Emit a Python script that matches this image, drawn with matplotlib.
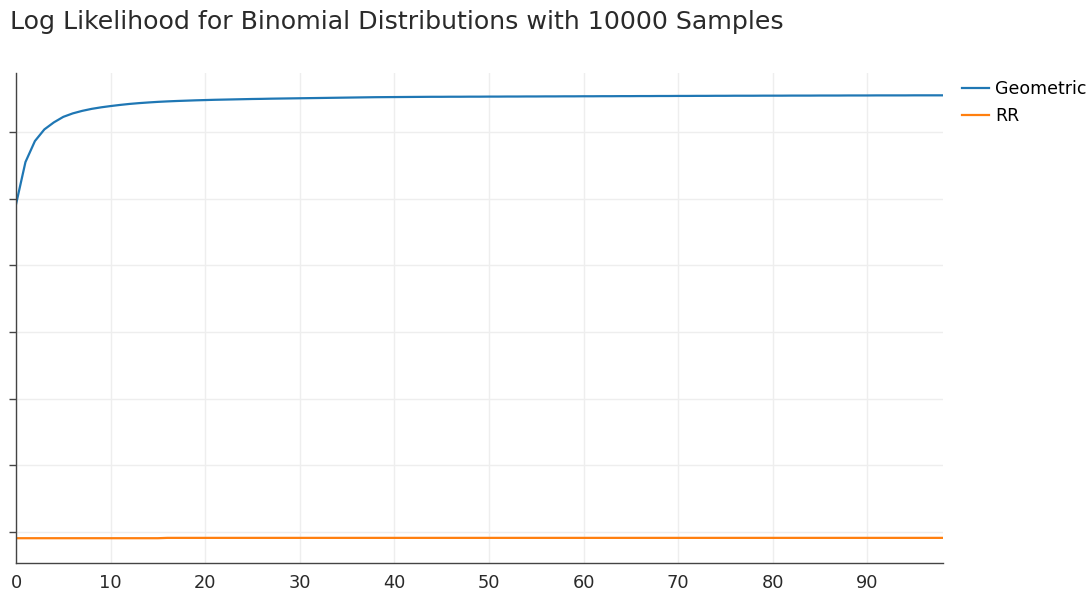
import matplotlib
matplotlib.use("Agg")
import matplotlib.pyplot as plt
import numpy as np

plt.rcParams['font.family'] = ['DejaVu Sans']

title = "Log Likelihood for Binomial Distributions with 10000 Samples"
series_names = ["Geometric", "RR"]

geometric = [
    -2086, -1450, -1135, -960, -855, -772, -720, -682, -652, -629,
    -610, -593, -578, -566, -556, -547, -540, -534, -529, -524,
    -520, -516, -513, -510, -507, -504, -502, -499, -497, -495,
    -493, -491, -489, -487, -485, -483, -481, -479, -477, -476,
    -475, -474, -473, -472, -471, -471, -470, -470, -469, -469,
    -468, -468, -467, -467, -466, -466, -465, -465, -464, -464,
    -463, -463, -462, -462, -461, -461, -460, -460, -459, -459,
    -458, -458, -457, -457, -456, -456, -455, -455, -455, -454,
    -454, -454, -453, -453, -453, -452, -452, -452, -451, -451,
    -451, -450, -450, -450, -450, -449, -449, -449, -449,
]
rr = [-7093] * 16 + [-7088] * 83

y_ticks = [-7000, -6000, -5000, -4000, -3000, -2000, -1000]
x_ticks = [0, 10, 20, 30, 40, 50, 60, 70, 80, 90]

x = np.arange(len(geometric))

W, H = 1089, 591
fig = plt.figure(figsize=(W / 100, H / 100), dpi=100)
ax = fig.add_axes([16 / W, (H - 563) / H, (943 - 16) / W, (563 - 73) / H])

l1, = ax.plot(x, geometric, color='#1f77b4', lw=1.6, label=series_names[0])
l2, = ax.plot(np.arange(len(rr)), rr, color='#ff7f0e', lw=1.6, label=series_names[1])

ax.set_xlim(0, 98)
ax.set_ylim(-7465, -114)
ax.set_xticks(x_ticks)
ax.set_yticks(y_ticks)
ax.set_yticklabels([])
ax.grid(True, color='#eeeeee', lw=1)
ax.set_axisbelow(True)
for s in ['top', 'right']:
    ax.spines[s].set_visible(False)
for s in ['left', 'bottom']:
    ax.spines[s].set_color('#444444')
    ax.spines[s].set_linewidth(1)
ax.tick_params(axis='x', length=0, labelsize=12.8, colors='#444444', pad=8, labelcolor='#2a2a2a')
ax.tick_params(axis='y', length=5, width=1, colors='#444444')

fig.text(10 / W, 1 - 22 / H, title, fontsize=18.2, color='#2a2a2a', va='center', ha='left')

fig.legend(handles=[l1, l2], loc='upper left', bbox_to_anchor=(959 / W, 1 - 77 / H),
           frameon=False, fontsize=12.5, handlelength=1.5, handletextpad=0.4,
           labelspacing=0.47, borderaxespad=0, borderpad=0.2)

fig.savefig('out.png', dpi=100)
